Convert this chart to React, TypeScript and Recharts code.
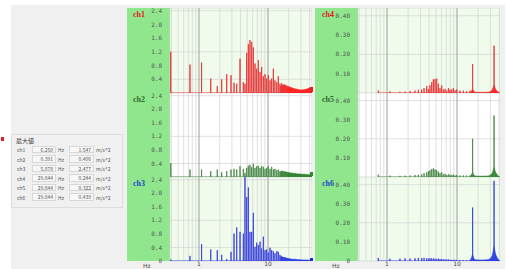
import { ComposedChart, Line, Area, XAxis, YAxis, CartesianGrid, ReferenceLine } from 'recharts'

// vertical grid positions (Hz), only 1 and 10 get a label
const gridFreqs = [0.4, 0.5, 0.6, 0.7, 0.8, 0.9, 1, 2, 3, 4, 5, 6, 7, 8, 9, 10, 20, 30, 40]
const accTicks = [0, 0.4, 0.8, 1.2, 1.6, 2.0, 2.4]
const smallTicks = [0, 0.1, 0.2, 0.3, 0.4]

// left column (ch1-ch3) line spectra
const leftStemFreqs = [0.39, 0.74, 1.09, 1.48, 1.84, 2.13, 2.52, 2.91, 3.22, 3.52, 3.93, 4.39, 4.64, 4.91, 5.19, 5.48, 5.8, 6.13, 6.48, 6.85, 7.24, 7.66, 8.09, 8.56, 9.05, 9.56, 10.1, 10.7, 11.3, 11.95, 12.6, 13.4, 14.1, 14.9, 15.8, 16.7, 17.6, 18.6]
const ch1Stems = [1.2, 0.83, 0.89, 0.42, 0.2, 0.4, 0.55, 0.52, 0.3, 0.27, 1.0, 0.32, 0.27, 1.17, 1.42, 1.54, 1.49, 1.33, 0.86, 0.71, 0.96, 0.61, 0.76, 0.49, 0.55, 0.42, 0.52, 0.37, 0.42, 0.71, 0.37, 0.32, 0.49, 0.27, 0.29, 0.22, 0.24, 0.2]
const ch2Stems = [0.41, 0.22, 0.22, 0.17, 0.22, 0.14, 0.17, 0.22, 0.24, 0.22, 0.32, 0.24, 0.12, 0.27, 0.33, 0.36, 0.29, 0.39, 0.27, 0.32, 0.33, 0.27, 0.32, 0.3, 0.24, 0.27, 0.32, 0.24, 0.3, 0.22, 0.24, 0.2, 0.22, 0.17, 0.19, 0.15, 0.14, 0.12]
const ch3Stems = [0.04, 0.15, 0.5, 0.34, 0.32, 0.18, 0.06, 0.27, 0.81, 0.99, 0.86, 0.81, 2.48, 1.89, 2.17, 0.86, 0.86, 1.42, 0.42, 0.54, 0.47, 0.57, 0.37, 0.72, 0.32, 0.34, 0.25, 0.39, 0.32, 0.29, 0.23, 0.29, 0.27, 0.18, 0.15, 0.11, 0.11, 0.08]

// dense high-frequency floor
const leftFloorFreqs = [15, 17, 19, 21, 23, 25, 27, 29, 31, 34, 37, 40, 43.4]
const ch1Floor = [0.2, 0.24, 0.2, 0.17, 0.14, 0.12, 0.1, 0.09, 0.09, 0.1, 0.12, 0.15, 0.16]
const ch2Floor = [0.15, 0.16, 0.14, 0.12, 0.11, 0.1, 0.09, 0.09, 0.08, 0.08, 0.07, 0.07, 0.06]
const ch3Floor = [0.12, 0.1, 0.08, 0.06, 0.05, 0.05, 0.04, 0.04, 0.03, 0.03, 0.03, 0.02, 0.02]

// right column (ch4-ch6)
const rightStemFreqs = [0.75, 1.1, 1.53, 1.81, 2.13, 2.51, 2.8, 3.13, 3.38, 3.69, 3.9, 4.11, 4.35, 4.59, 4.85, 5.12, 5.41, 5.71, 6.04, 6.38, 6.74, 7.12, 7.52, 7.94, 8.39, 8.86, 9.36, 9.89, 11.0, 12.3, 13.7, 15.3, 16.7, 33.8]
const ch4Stems = [0.013, 0.008, 0.006, 0.007, 0.01, 0.012, 0.016, 0.018, 0.025, 0.036, 0.021, 0.04, 0.057, 0.071, 0.071, 0.075, 0.048, 0.025, 0.039, 0.018, 0.021, 0.012, 0.025, 0.018, 0.018, 0.025, 0.014, 0.018, 0.012, 0.012, 0.01, 0.012, 0.15, 0.245]
const ch5Stems = [0.012, 0.007, 0.006, 0.007, 0.008, 0.01, 0.012, 0.014, 0.02, 0.024, 0.03, 0.035, 0.042, 0.045, 0.04, 0.036, 0.028, 0.02, 0.025, 0.014, 0.016, 0.01, 0.014, 0.012, 0.01, 0.012, 0.008, 0.01, 0.008, 0.008, 0.008, 0.008, 0.2, 0.322]
const ch6Stems = [0.016, 0.012, 0.012, 0.014, 0.013, 0.014, 0.016, 0.015, 0.016, 0.014, 0.012, 0.014, 0.014, 0.012, 0.012, 0.01, 0.012, 0.01, 0.01, 0.008, 0.008, 0.008, 0.008, 0.006, 0.006, 0.006, 0.006, 0.005, 0.005, 0.005, 0.005, 0.006, 0.28, 0.42]

const rightFloorFreqs = [15.5, 16.2, 16.7, 17.3, 18, 20, 24, 28, 30.5, 32, 33.8, 35.5, 38, 41]
const ch4Floor = [0, 0.012, 0.02, 0.01, 0.004, 0.003, 0.003, 0.004, 0.008, 0.018, 0.04, 0.02, 0.006, 0]
const ch5Floor = [0, 0.015, 0.025, 0.012, 0.005, 0.004, 0.004, 0.005, 0.01, 0.022, 0.05, 0.025, 0.008, 0]
const ch6Floor = [0, 0.02, 0.035, 0.015, 0.006, 0.005, 0.005, 0.007, 0.015, 0.03, 0.075, 0.035, 0.012, 0]

// max value table
const tableNames = ['ch1', 'ch2', 'ch3', 'ch4', 'ch5', 'ch6']
const tableFreqs = ['6.250', '0.391', '5.078', '29.844', '29.844', '29.844']
const tableAcc = ['1.547', '0.406', '2.477', '0.244', '0.322', '0.439']

const GREEN = '#90e68c'
const PLOT_GREEN = '#f0fbec'
const COL_W = 185
const AXIS_W = 43
const heights = [85, 84, 84]

const RED = { label: '#e0201c', line: '#e8383a', fill: '#ff1010' }
const DKGREEN = { label: '#2f6a2f', line: '#4a8a4a', fill: '#1f7a1f' }
const BLUE = { label: '#1f48c8', line: '#3a44dc', fill: '#1830e8' }

type SpecProps = {
  name: string
  colors: { label: string; line: string; fill: string }
  stemFreqs: number[]
  stemVals: number[]
  floorFreqs: number[]
  floorVals: number[]
  xDomain: [number, number]
  yMax: number
  yTicks: number[]
  small: boolean
  bg: string
  plotH: number
  showX: boolean
}

function Spectrum(p: SpecProps) {
  const stemData = p.stemFreqs.flatMap((f, i) => [
    { f, v: 0 },
    { f, v: p.stemVals[i] },
    { f, v: 0 },
  ])
  const floorData = p.floorFreqs.map((f, i) => ({ f, v: p.floorVals[i] }))
  const h = p.plotH + (p.showX ? 8 : 0)
  return (
    <div style={{ position: 'relative', width: COL_W, height: h }}>
      <div style={{ position: 'absolute', left: 0, top: 0, width: AXIS_W, height: p.plotH, background: GREEN }} />
      <ComposedChart width={COL_W} height={h} margin={{ top: 0, right: 0, bottom: 0, left: 0 }}>
        <CartesianGrid stroke="#d2d2d2" strokeWidth={0.7} fill={p.bg} fillOpacity={1} />
        <XAxis
          dataKey="f"
          type="number"
          scale="log"
          domain={p.xDomain}
          allowDataOverflow
          ticks={gridFreqs}
          interval={0}
          height={p.showX ? 8 : 0}
          tick={{ fontSize: 6, fill: '#444', fontFamily: 'DejaVu Sans' }}
          tickFormatter={(v: number) => (p.showX && (v === 1 || v === 10) ? String(v) : '')}
          tickLine={false}
          tickSize={0}
          tickMargin={1}
          axisLine={false}
        />
        <YAxis
          type="number"
          domain={[0, p.yMax]}
          allowDataOverflow
          ticks={p.yTicks}
          width={AXIS_W}
          tickLine={false}
          axisLine={false}
          tickMargin={2}
          tick={{ fontSize: 6, fill: '#555', fontFamily: 'DejaVu Sans Mono' }}
          tickFormatter={(v: number) => (v === 0 ? '0' : v.toFixed(p.small ? 2 : 1))}
        />
        <ReferenceLine x={1} stroke="#9a9a9a" strokeWidth={0.8} />
        <ReferenceLine x={10} stroke="#9a9a9a" strokeWidth={0.8} />
        <Area
          data={floorData}
          dataKey="v"
          type="linear"
          stroke={p.colors.fill}
          strokeWidth={0.6}
          fill={p.colors.fill}
          fillOpacity={0.9}
          isAnimationActive={false}
          dot={false}
          activeDot={false}
        />
        <Line
          data={stemData}
          dataKey="v"
          type="linear"
          stroke={p.colors.line}
          strokeWidth={0.9}
          dot={false}
          activeDot={false}
          isAnimationActive={false}
        />
      </ComposedChart>
      <div
        style={{
          position: 'absolute',
          left: p.small ? 7 : 6,
          top: 2,
          color: p.colors.label,
          font: 'bold 8px "Liberation Serif", serif',
        }}
      >
        {p.name}
      </div>
    </div>
  )
}

const leftSpecs = [
  { name: 'ch1', colors: RED, stemVals: ch1Stems, floorVals: ch1Floor, bg: PLOT_GREEN },
  { name: 'ch2', colors: DKGREEN, stemVals: ch2Stems, floorVals: ch2Floor, bg: '#ffffff' },
  { name: 'ch3', colors: BLUE, stemVals: ch3Stems, floorVals: ch3Floor, bg: PLOT_GREEN },
]
const rightSpecs = [
  { name: 'ch4', colors: RED, stemVals: ch4Stems, floorVals: ch4Floor, bg: PLOT_GREEN },
  { name: 'ch5', colors: DKGREEN, stemVals: ch5Stems, floorVals: ch5Floor, bg: '#ffffff' },
  { name: 'ch6', colors: BLUE, stemVals: ch6Stems, floorVals: ch6Floor, bg: PLOT_GREEN },
]

function MaxTable() {
  const cell = { position: 'absolute' as const, fontSize: 5, color: '#555', fontFamily: '"Noto Sans CJK JP", sans-serif', lineHeight: '7px' }
  return (
    <div style={{ position: 'absolute', left: 11, top: 134, width: 112, height: 74, border: '1px solid #dedede', boxSizing: 'border-box' }}>
      <div style={{ ...cell, left: 4, top: 2, fontSize: 6, color: '#333' }}>最大値</div>
      {tableNames.map((n, i) => {
        const top = 11 + i * 9.5
        return (
          <div key={n}>
            <div style={{ ...cell, left: 5, top }}>{n}</div>
            <div style={{ ...cell, left: 20, top: top - 0.5, width: 24, height: 7.5, background: '#f7f7f7', border: '1px solid #d8d8d8', boxSizing: 'border-box', textAlign: 'right', paddingRight: 2, lineHeight: '6px' }}>{tableFreqs[i]}</div>
            <div style={{ ...cell, left: 46, top }}>Hz</div>
            <div style={{ ...cell, left: 57, top: top - 0.5, width: 25, height: 7.5, background: '#f7f7f7', border: '1px solid #d8d8d8', boxSizing: 'border-box', textAlign: 'right', paddingRight: 2, lineHeight: '6px' }}>{tableAcc[i]}</div>
            <div style={{ ...cell, left: 84, top }}>m/s^2</div>
          </div>
        )
      })}
    </div>
  )
}

export default function App() {
  return (
    <div style={{ position: 'absolute', left: 0, top: 0, width: 507, height: 269, background: '#ffffff', overflow: 'hidden' }}>
      <div style={{ position: 'absolute', left: 11, top: 5, width: 494, height: 264, background: '#f0f0f0' }} />
      <div style={{ position: 'absolute', left: 1, top: 137, width: 3, height: 4, background: '#e02020' }} />
      <MaxTable />
      <div style={{ position: 'absolute', left: 127, top: 8 }}>
        {leftSpecs.map((s, i) => (
          <Spectrum
            key={s.name}
            name={s.name}
            colors={s.colors}
            stemFreqs={leftStemFreqs}
            stemVals={s.stemVals}
            floorFreqs={leftFloorFreqs}
            floorVals={s.floorVals}
            xDomain={[0.38, 43.4]}
            yMax={2.48}
            yTicks={accTicks}
            small={false}
            bg={s.bg}
            plotH={heights[i]}
            showX={i === 2}
          />
        ))}
      </div>
      <div style={{ position: 'absolute', left: 315, top: 8 }}>
        {rightSpecs.map((s, i) => (
          <Spectrum
            key={s.name}
            name={s.name}
            colors={s.colors}
            stemFreqs={rightStemFreqs}
            stemVals={s.stemVals}
            floorFreqs={rightFloorFreqs}
            floorVals={s.floorVals}
            xDomain={[0.385, 41.1]}
            yMax={0.44}
            yTicks={smallTicks}
            small={true}
            bg={s.bg}
            plotH={heights[i]}
            showX={i === 2}
          />
        ))}
      </div>
      <div style={{ position: 'absolute', left: 310, top: 87, width: 3, height: 5, background: '#e02020' }} />
      <div style={{ position: 'absolute', left: 310, top: 172, width: 3, height: 4, background: '#2f8a2f' }} />
      <div style={{ position: 'absolute', left: 310, top: 258, width: 3, height: 3, background: '#2030d0' }} />
      <div style={{ position: 'absolute', left: 143, top: 262, fontSize: 6, color: '#444', fontFamily: 'DejaVu Sans' }}>Hz</div>
      <div style={{ position: 'absolute', left: 332, top: 262, fontSize: 6, color: '#444', fontFamily: 'DejaVu Sans' }}>Hz</div>
    </div>
  )
}
